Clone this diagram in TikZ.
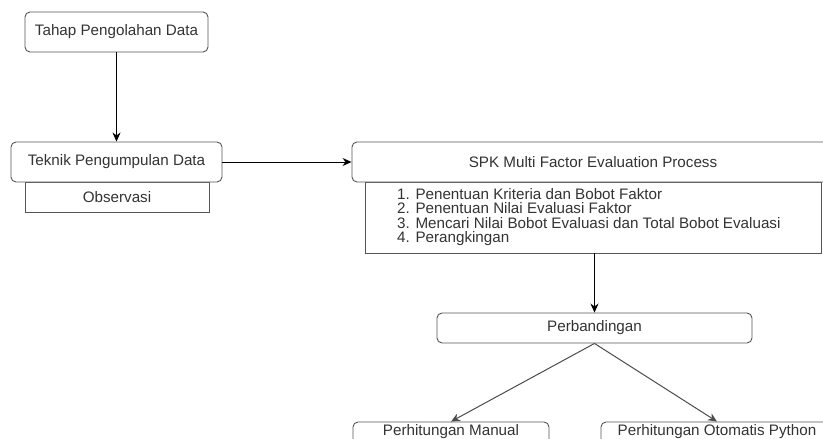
\documentclass[tikz,border=0pt]{standalone}
\usepackage{fontspec}
\setmainfont{Liberation Sans}
\usetikzlibrary{arrows.meta}
\definecolor{txt}{HTML}{333333}
\definecolor{edge}{HTML}{555555}
\tikzset{
  base/.style={draw=edge, line width=0.9pt, inner sep=0pt, text=txt,
    font=\fontsize{15.2}{14.2}\selectfont},
  rbox/.style={base, rounded corners=5pt},
  sbox/.style={base},
  conn/.style={line width=0.9pt, -{Stealth[length=9pt,width=8pt]}},
  diag/.style={draw=black!70, line width=1pt, -{Stealth[length=9pt,width=8pt]}}
}
\begin{document}
\begin{tikzpicture}[x=1pt,y=-1pt]
\clip (0,0) rectangle (823,439);
\useasboundingbox (0,0) rectangle (823,439);
\node[rbox, minimum width=183pt, minimum height=40pt] (tahap) at (116.5,32) {Tahap Pengolahan Data};
\node[sbox, minimum width=184pt, minimum height=30pt] (obs) at (117,197) {Observasi};
\node[rbox, fill=white, minimum width=211pt, minimum height=40pt] (teknik) at (116.5,162) {Teknik Pengumpulan Data};
\node[sbox, minimum width=456pt, minimum height=71pt] (sub) at (593,217.5) {};
\node[rbox, fill=white, minimum width=482pt, minimum height=40pt] (spk) at (593,162) {SPK Multi Factor Evaluation Process};
\node[text=txt, font=\fontsize{15.2}{14.2}\selectfont, align=left, anchor=north west, inner sep=0pt] (list) at (397,188.5)
  {1. Penentuan Kriteria dan Bobot Faktor\\2. Penentuan Nilai Evaluasi Faktor\\3. Mencari Nilai Bobot Evaluasi dan Total Bobot Evaluasi\\4. Perangkingan};
\node[rbox, minimum width=315pt, minimum height=30pt] (perb) at (594.5,328) {Perbandingan};
\node[rbox, minimum width=196pt, minimum height=24pt] (manual) at (451,434) {};
\node[rbox, minimum width=232pt, minimum height=24pt] (python) at (717,434) {};
\node[text=txt, font=\fontsize{15.2}{14.2}\selectfont, inner sep=0pt, anchor=base] (manualtxt) at (451,435.5) {Perhitungan Manual};
\node[text=txt, font=\fontsize{15.2}{14.2}\selectfont, inner sep=0pt, anchor=base] (pythontxt) at (717,435.5) {Perhitungan Otomatis Python};
\draw[conn] (tahap) -- (teknik);
\draw[conn] (teknik) -- (spk);
\draw[conn] (perb.north |- sub.south) -- (perb.north);
\draw[diag] (perb.south) -- (manual.north);
\draw[diag] (perb.south) -- (python.north);
\end{tikzpicture}
\end{document}
